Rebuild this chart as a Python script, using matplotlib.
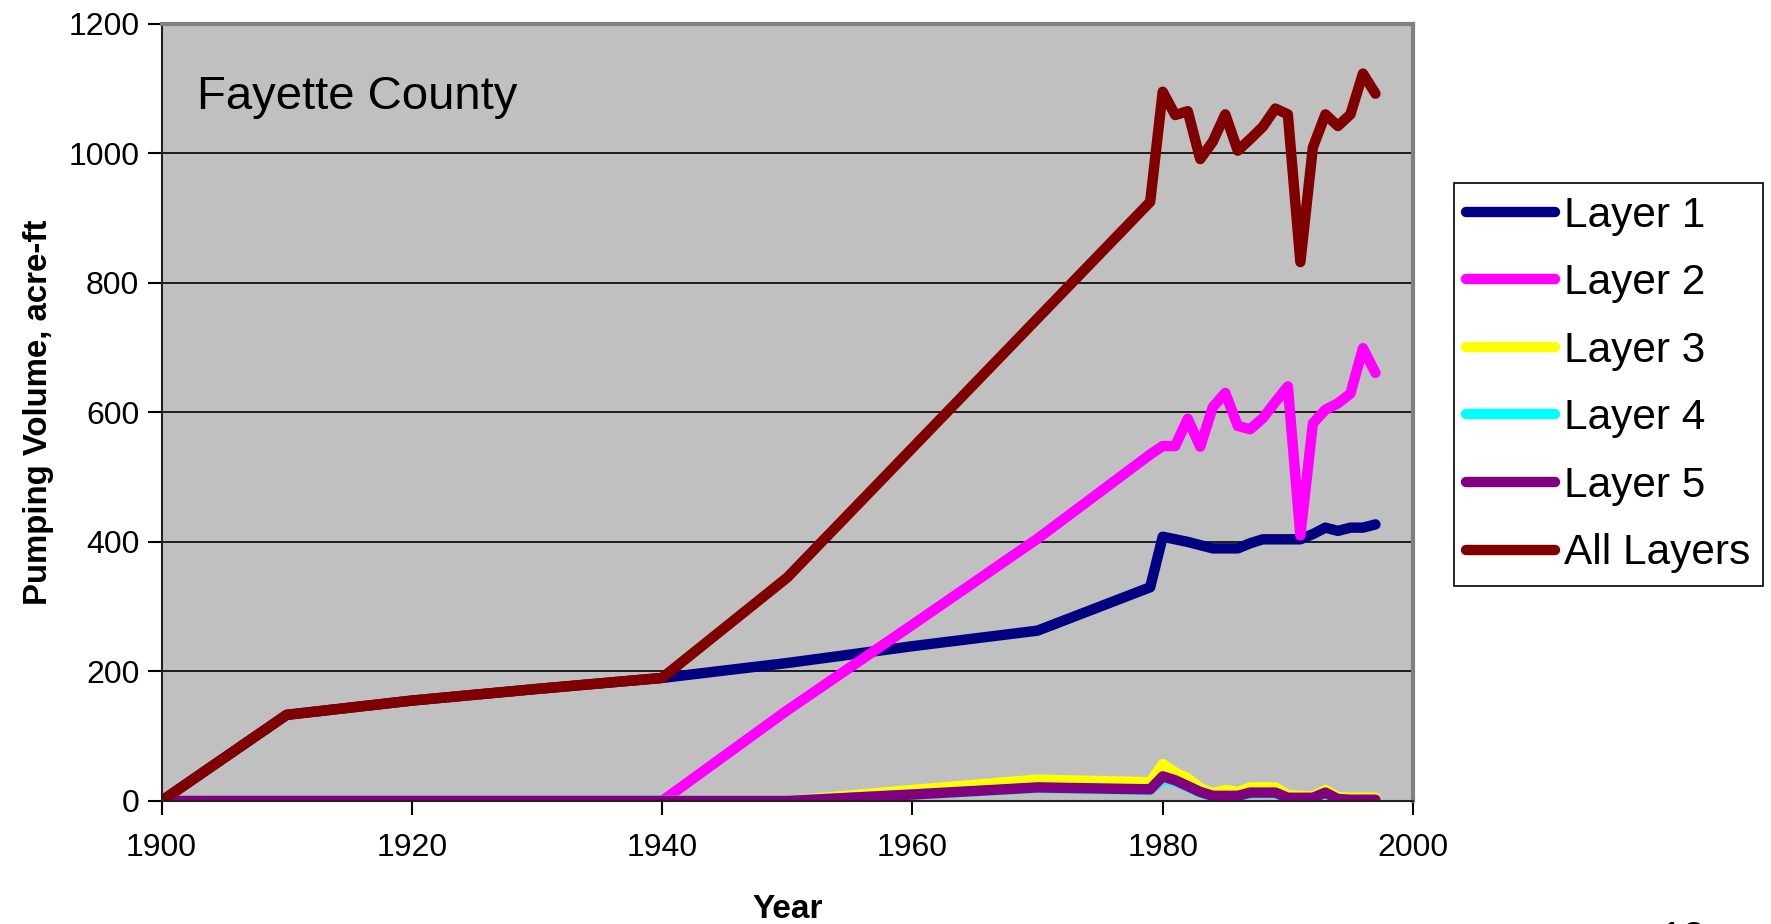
import matplotlib
matplotlib.use('Agg')
import matplotlib.pyplot as plt

years = [1900, 1910, 1920, 1930, 1940, 1950, 1960, 1970, 1979,
         1980, 1981, 1982, 1983, 1984, 1985, 1986, 1987, 1988,
         1989, 1990, 1991, 1992, 1993, 1994, 1995, 1996, 1997]

layer1 = [0, 133, 155, 173, 190, 213, 239, 263, 330,
          408, 404, 400, 395, 390, 390, 390, 398, 404,
          404, 404, 404, 412, 422, 417, 422, 422, 427]
layer2 = [0, 0, 0, 0, 0, 140, 272, 405, 535,
          548, 548, 590, 547, 608, 630, 579, 574, 591,
          616, 640, 410, 583, 604, 614, 629, 699, 661]
layer3 = [0, 0, 0, 0, 0, 0, 17, 33, 29,
          57, 44, 35, 20, 12, 17, 14, 21, 21,
          21, 9, 8, 7, 17, 6, 5, 5, 5]
layer4 = [0, 0, 0, 0, 0, 0, 10, 20, 17,
          34, 30, 22, 13, 7, 7, 7, 12, 12,
          12, 4, 4, 4, 12, 2, 1, 1, 1]
layer5 = [0, 0, 0, 0, 0, 0, 10, 21, 18,
          38, 32, 23, 14, 8, 8, 8, 13, 13,
          13, 5, 5, 5, 13, 3, 2, 2, 2]
all_layers = [0, 133, 155, 173, 190, 345, 545, 745, 925,
              1095, 1059, 1065, 991, 1018, 1060, 1004, 1022, 1041,
              1069, 1060, 832, 1009, 1060, 1042, 1060, 1123, 1092]

names = ['Layer 1', 'Layer 2', 'Layer 3', 'Layer 4', 'Layer 5', 'All Layers']
colors = ['#000080', '#FF00FF', '#FFFF00', '#00FFFF', '#800080', '#800000']

plt.rcParams['font.family'] = ['Liberation Sans', 'DejaVu Sans']

W, H = 1771, 924
fig = plt.figure(figsize=(W / 100.0, H / 100.0), dpi=100)
ax = fig.add_axes([161.5 / W, 1 - 801.0 / H, (1413 - 161.5) / W, (801 - 23.7) / H])
ax.set_facecolor('#C0C0C0')

for data, name, c in zip([layer1, layer2, layer3, layer4, layer5, all_layers], names, colors):
    ax.plot(years, data, color=c, lw=7.5, label=name, solid_joinstyle='round',
            solid_capstyle='round')

ax.set_xlim(1900, 2000)
ax.set_ylim(0, 1200)
ax.set_xticks(range(1900, 2001, 20))
ax.set_yticks(range(0, 1201, 200))
ax.yaxis.grid(True, color='black', lw=1.2)
ax.set_axisbelow(True)
ax.tick_params(axis='both', labelsize=23, length=10, width=1.5, direction='out')
ax.tick_params(axis='y', pad=6)
ax.tick_params(axis='x', pad=13)

ax.spines['left'].set_color('#202020')
ax.spines['bottom'].set_color('#202020')
ax.spines['left'].set_linewidth(1.5)
ax.spines['bottom'].set_linewidth(1.5)
ax.spines['top'].set_color('#808080')
ax.spines['right'].set_color('#808080')
ax.spines['top'].set_linewidth(3)
ax.spines['right'].set_linewidth(3)

ax.set_ylabel('Pumping Volume, acre-ft', fontsize=23.8, fontweight='bold', labelpad=10)
ax.set_xlabel('Year', fontsize=24, fontweight='bold', labelpad=22)

ax.text(0.0285, 0.89, 'Fayette County', transform=ax.transAxes, fontsize=34)

leg = fig.legend(loc='upper left', bbox_to_anchor=(1453.7 / W, 1 - 183.0 / H),
                 fontsize=30.5, handlelength=2.1, handletextpad=0.2,
                 labelspacing=0.65, borderpad=0.3, borderaxespad=0,
                 fancybox=False, framealpha=1, edgecolor='black')
leg.get_frame().set_linewidth(1.2)
for line in leg.get_lines():
    line.set_linewidth(7.5)

fig.text(1660.0 / W, 1 - 920.0 / H, '12', fontsize=30, va='top', ha='left')

plt.savefig('out.png', dpi=100)
